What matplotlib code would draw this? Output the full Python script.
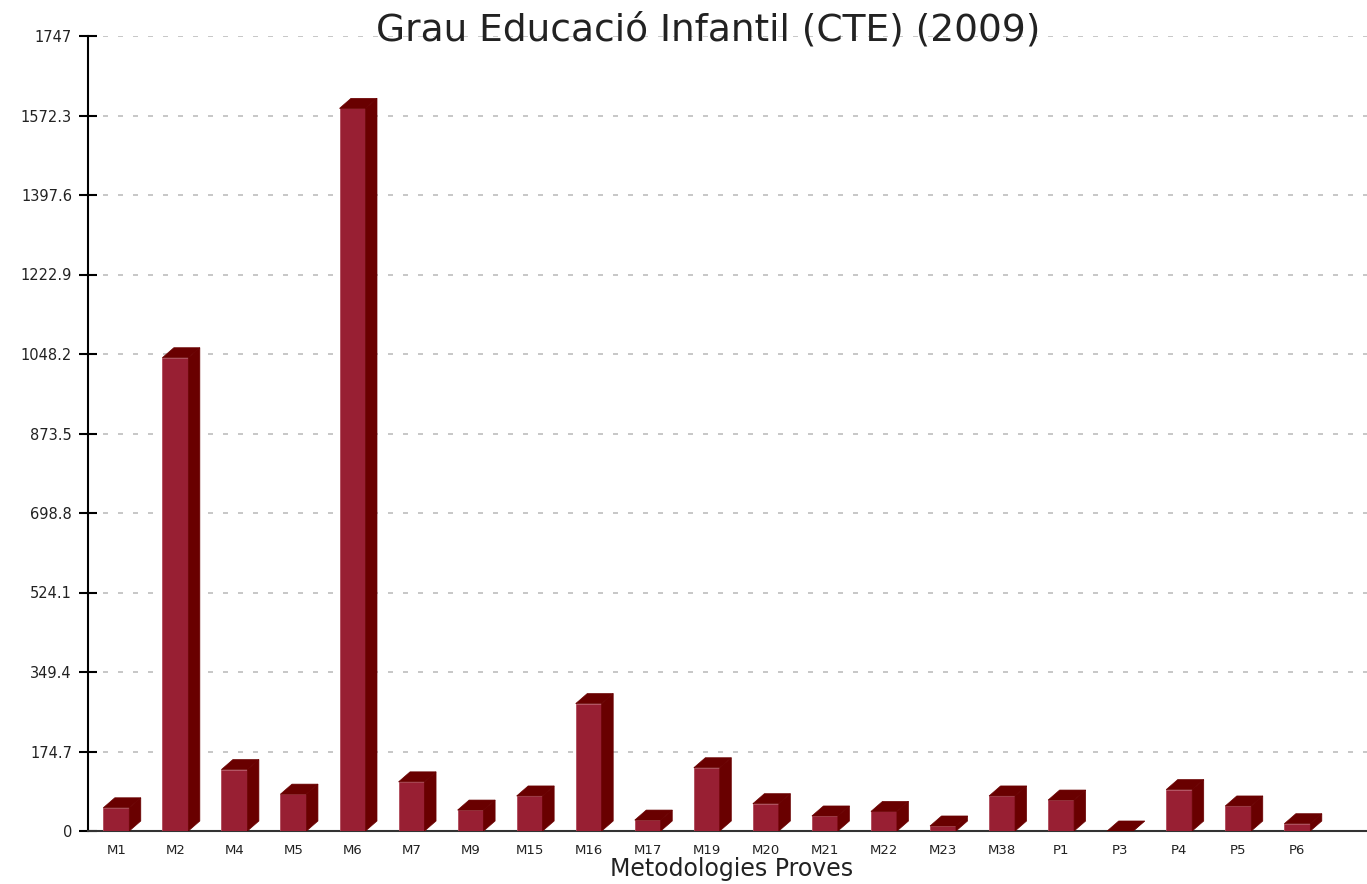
import matplotlib
matplotlib.use("Agg")
import matplotlib.pyplot as plt
from matplotlib.patches import Polygon
import numpy as np

# Data -------
categories = ["M1", "M2", "M4", "M5", "M6", "M7", "M9", "M15", "M16", "M17", "M19",
              "M20", "M21", "M22", "M23", "M38", "P1", "P3", "P4", "P5", "P6"]
values = [51, 1040, 135, 81, 1588, 108, 46, 77, 280, 24, 139,
          60, 33, 43, 11, 77, 68, 0, 91, 55, 16]
y_ticks = [0, 174.7, 349.4, 524.1, 698.8, 873.5, 1048.2, 1222.9, 1397.6, 1572.3, 1747]
y_labels = ["0", "174.7", "349.4", "524.1", "698.8", "873.5", "1048.2",
            "1222.9", "1397.6", "1572.3", "1747"]

front_color = "#981f33"
side_color = "#690000"

# Plot -------
fig = plt.figure(figsize=(13.67, 8.84), dpi=100)
ax = fig.add_axes([88 / 1367, 53 / 884, 1 - 88 / 1367, (831 - 36) / 884])

x = np.arange(len(categories))
width = 0.44
dx = 0.195      # depth in x units
dy = 22.0       # depth in value units

ax.bar(x, values, width=width, color=front_color, edgecolor="#b04a5a",
       linewidth=0.6, zorder=3)

for xi, h in zip(x, values):
    xl = xi - width / 2
    xr = xi + width / 2
    side = Polygon([(xr, 0), (xr, h), (xr + dx, h + dy), (xr + dx, dy)],
                   closed=True, facecolor=side_color, edgecolor=side_color,
                   linewidth=0.5, zorder=3)
    top = Polygon([(xl, h), (xr, h), (xr + dx, h + dy), (xl + dx, h + dy)],
                  closed=True, facecolor=side_color, edgecolor=side_color,
                  linewidth=0.5, zorder=3)
    ax.add_patch(side)
    ax.add_patch(top)

ax.set_xlim(-0.479, 21.18)
ax.set_ylim(0, 1747)

ax.set_yticks(y_ticks)
ax.set_yticklabels(y_labels)
ax.set_xticks(x)
ax.set_xticklabels(categories)

ax.tick_params(axis="y", direction="inout", length=13, width=1.5, labelsize=10.5,
               pad=5, color="black", labelcolor="#222222")
ax.tick_params(axis="x", length=0, labelsize=9.5, pad=9, labelcolor="#222222")

for side_name in ["top", "right"]:
    ax.spines[side_name].set_visible(False)
ax.spines["left"].set_linewidth(1.5)
ax.spines["bottom"].set_linewidth(1.5)
ax.spines["bottom"].set_color("#333333")

ax.yaxis.grid(True, color="#bdbdbd", linestyle=(0, (3, 6)), linewidth=1.2)
ax.set_axisbelow(True)

fig.text(0.518, 1 - 40 / 884, "Grau Educació Infantil (CTE) (2009)",
         ha="center", va="baseline", fontsize=27, color="#222222")
fig.text(0.535, 8 / 884, "Metodologies Proves", ha="center", va="baseline",
         fontsize=17, color="#222222")

fig.savefig("out.png", dpi=100)
